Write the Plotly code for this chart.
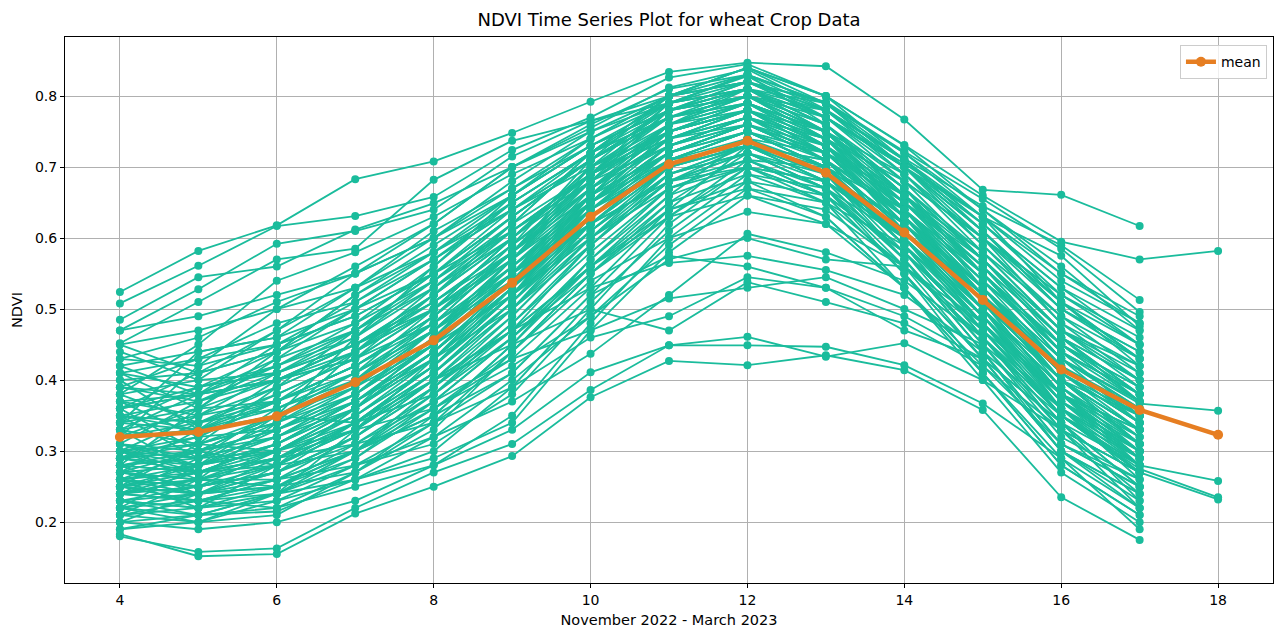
import plotly.graph_objects as go

# Days (x positions) of each acquisition
DAYS = [4, 5, 6, 7, 8, 9, 10, 11, 12, 13, 14, 15, 16, 17, 18]

# Per-field NDVI profiles (series starting at day 4; shorter ones end at day 17)
field_a = [.524, .582, .618, .683, .708, .748, .792, .834, .847, .842, .767, .668, .661, .617]
field_b = [.508, .561, .617, .631, .658, .724, .770, .826, .845, .800, .731, .660, .595, .570, .582]
field_c = [.485, .545, .560, .612, .649, .700, .755, .812, .838, .781, .712, .645, .590, .513]
field_d = [.470, .528, .592, .610, .640, .715, .765, .800, .820, .792, .722, .655, .585, .496]
field_e = [.452, .510, .570, .585, .682, .737, .765, .790, .828, .770, .705, .630, .575, .476]

main_fields = [
    [.39, .38, .42, .47, .54, .62, .72, .80, .84, .79, .70, .59, .48, .42],
    [.26, .28, .30, .36, .44, .54, .66, .76, .80, .75, .64, .52, .40, .33],
    [.31, .30, .33, .38, .45, .55, .64, .72, .76, .71, .60, .49, .36, .29],
    [.22, .24, .25, .31, .38, .47, .59, .68, .72, .67, .57, .44, .31, .25],
    [.35, .37, .40, .43, .50, .60, .69, .78, .82, .78, .70, .62, .53, .47],
    [.28, .27, .31, .37, .43, .53, .65, .74, .78, .73, .64, .54, .44, .38],
    [.24, .23, .26, .30, .39, .49, .60, .70, .74, .69, .57, .44, .30, .22],
    [.42, .44, .46, .50, .55, .63, .71, .78, .81, .76, .66, .55, .43, .36],
    [.33, .31, .34, .38, .45, .52, .60, .67, .70, .66, .58, .47, .36, .30],
    [.27, .30, .32, .38, .46, .57, .69, .79, .83, .79, .70, .61, .50, .44],
    [.20, .21, .22, .27, .34, .44, .55, .64, .68, .63, .53, .41, .28, .21],
    [.37, .35, .39, .44, .51, .59, .68, .76, .79, .75, .67, .58, .47, .41],
    [.30, .32, .33, .37, .44, .53, .63, .71, .75, .70, .59, .46, .33, .27],
    [.25, .26, .29, .35, .42, .52, .64, .73, .77, .72, .62, .51, .40, .35],
    [.45, .47, .50, .53, .58, .64, .71, .77, .80, .76, .68, .60, .51, .45],
    [.34, .33, .36, .40, .47, .55, .63, .70, .73, .68, .60, .49, .38, .32],
    [.21, .20, .24, .29, .37, .46, .57, .67, .71, .66, .55, .43, .30, .24],
    [.29, .31, .34, .39, .47, .57, .68, .78, .82, .77, .68, .57, .45, .39],
    [.38, .40, .41, .45, .51, .59, .67, .74, .77, .72, .63, .52, .41, .34],
    [.23, .22, .25, .30, .37, .46, .56, .65, .69, .65, .56, .46, .35, .28],
    [.32, .34, .36, .41, .48, .58, .69, .77, .81, .77, .69, .59, .49, .43],
    [.26, .25, .28, .34, .41, .51, .63, .72, .76, .71, .61, .49, .37, .30],
    [.40, .41, .44, .48, .54, .61, .69, .75, .78, .74, .65, .56, .44, .37],
    [.28, .29, .30, .35, .42, .51, .61, .69, .72, .67, .56, .43, .30, .23],
    [.36, .39, .41, .46, .53, .62, .72, .80, .84, .80, .73, .64, .55, .49],
    [.24, .26, .28, .34, .42, .52, .65, .75, .79, .74, .63, .51, .38, .31],
    [.31, .29, .32, .37, .44, .53, .62, .70, .74, .69, .58, .45, .32, .26],
    [.19, .20, .21, .27, .35, .45, .57, .66, .70, .65, .53, .40, .27, .20],
    [.43, .42, .45, .49, .55, .61, .68, .73, .76, .72, .65, .56, .46, .40],
    [.27, .28, .31, .37, .45, .55, .67, .76, .80, .75, .65, .54, .42, .36],
    [.34, .36, .37, .41, .47, .54, .62, .68, .71, .67, .58, .47, .35, .29],
    [.22, .23, .26, .32, .40, .50, .62, .71, .75, .70, .60, .49, .38, .33],
    [.30, .31, .35, .40, .48, .58, .70, .79, .83, .79, .71, .62, .52, .46],
    [.25, .24, .27, .32, .39, .47, .56, .64, .67, .63, .53, .41, .29, .22],
    [.39, .37, .41, .45, .50, .57, .65, .71, .73, .69, .60, .49, .37, .31],
    [.29, .30, .33, .38, .46, .55, .66, .74, .78, .74, .66, .56, .46, .40],
    [.35, .34, .37, .42, .48, .56, .65, .72, .76, .71, .60, .48, .35, .28],
    [.23, .25, .27, .34, .42, .53, .66, .76, .81, .76, .67, .55, .44, .38],
    [.47, .49, .52, .55, .60, .66, .73, .79, .82, .78, .71, .63, .54, .48],
    [.26, .27, .29, .34, .41, .50, .61, .70, .74, .69, .59, .46, .33, .27],
    [.33, .35, .37, .42, .49, .58, .68, .76, .79, .74, .64, .53, .41, .35],
    [.21, .22, .24, .30, .38, .48, .59, .69, .73, .68, .57, .44, .31, .25],
    [.37, .38, .40, .43, .48, .55, .62, .68, .70, .66, .58, .48, .38, .33],
    [.28, .27, .30, .36, .44, .53, .65, .73, .77, .73, .65, .57, .47, .42],
    [.41, .43, .45, .49, .55, .63, .71, .77, .80, .75, .64, .51, .38, .30],
    [.24, .25, .27, .32, .39, .48, .58, .67, .71, .66, .55, .43, .30, .24],
    [.32, .33, .37, .42, .49, .59, .71, .80, .84, .80, .71, .61, .50, .44],
    [.27, .26, .29, .33, .40, .47, .56, .63, .66, .62, .53, .42, .31, .26],
    [.36, .38, .40, .44, .50, .58, .67, .75, .78, .73, .65, .55, .45, .39],
    [.30, .29, .32, .36, .43, .52, .61, .69, .72, .67, .55, .41, .28, .21],
    [.44, .40, .47, .55, .60, .68, .75, .80, .82, .77, .70, .60, .50, .43],
    [.32, .42, .50, .56, .62, .70, .76, .81, .83, .78, .69, .58, .47, .40],
    [.38, .45, .54, .58, .63, .69, .74, .79, .81, .79, .72, .64, .56, .47],
    [.28, .36, .44, .52, .59, .66, .73, .78, .80, .76, .67, .57, .46, .37],
    [.41, .36, .43, .50, .57, .64, .71, .77, .79, .73, .62, .51, .40, .32],
    [.34, .44, .46, .53, .61, .67, .74, .80, .83, .76, .66, .55, .43, .34],
    [.25, .31, .39, .47, .55, .63, .71, .78, .81, .78, .70, .61, .51, .42],
    [.30, .26, .34, .44, .53, .61, .69, .75, .78, .72, .62, .50, .38, .29],
    [.36, .30, .35, .46, .56, .65, .72, .79, .81, .75, .64, .52, .39, .31],
    [.22, .28, .35, .41, .50, .60, .70, .77, .80, .74, .63, .52, .41, .34],
    [.40, .33, .38, .43, .52, .62, .69, .74, .77, .74, .68, .60, .52, .45],
    [.27, .33, .40, .45, .51, .58, .66, .72, .75, .72, .66, .57, .47, .39],
    [.35, .29, .36, .41, .47, .56, .65, .73, .77, .74, .66, .58, .49, .41],
    [.31, .37, .42, .48, .56, .66, .74, .80, .82, .79, .72, .63, .51, .43],
    [.26, .22, .28, .36, .46, .56, .66, .74, .78, .73, .61, .50, .39, .32],
    [.39, .43, .48, .51, .57, .64, .70, .75, .79, .75, .67, .57, .46, .38],
    [.24, .29, .34, .40, .49, .58, .67, .74, .77, .71, .61, .49, .37, .30],
    [.33, .27, .31, .36, .43, .50, .59, .68, .73, .69, .62, .53, .43, .36],
    [.45, .41, .44, .52, .58, .66, .73, .78, .80, .78, .71, .62, .53, .45],
    [.29, .34, .38, .43, .50, .60, .69, .76, .78, .72, .62, .50, .36, .27],
    [.21, .26, .30, .36, .44, .54, .64, .71, .74, .70, .62, .51, .40, .33],
    [.37, .32, .37, .42, .49, .57, .66, .72, .76, .72, .63, .53, .42, .35],
    [.42, .38, .43, .47, .53, .60, .68, .75, .78, .75, .69, .60, .48, .40],
    [.30, .35, .41, .47, .55, .64, .72, .78, .81, .75, .64, .52, .40, .33],
    [.23, .21, .24, .33, .43, .54, .65, .73, .76, .72, .63, .52, .41, .34],
    [.34, .39, .44, .50, .57, .65, .72, .77, .79, .73, .64, .54, .45, .37],
    [.28, .24, .29, .33, .41, .51, .62, .71, .75, .71, .63, .53, .43, .37],
    [.43, .46, .51, .55, .62, .70, .75, .79, .81, .77, .70, .61, .51, .43],
    [.26, .30, .35, .39, .45, .55, .65, .72, .75, .70, .60, .48, .35, .27],
    [.31, .28, .33, .39, .47, .56, .64, .70, .73, .71, .64, .55, .45, .38],
    [.36, .41, .47, .53, .60, .67, .73, .78, .80, .74, .63, .50, .37, .29],
    [.20, .24, .28, .33, .41, .50, .60, .68, .72, .68, .60, .50, .40, .33],
    [.33, .38, .45, .51, .58, .65, .72, .77, .80, .77, .70, .63, .55, .48],
    [.25, .28, .32, .38, .47, .57, .67, .75, .79, .75, .67, .57, .46, .38],
    [.38, .34, .39, .44, .50, .58, .67, .73, .77, .73, .64, .53, .41, .33],
    [.29, .32, .37, .44, .52, .61, .69, .74, .76, .73, .66, .56, .44, .35],
    [.41, .39, .42, .46, .54, .63, .71, .78, .81, .76, .66, .53, .40, .31],
    [.24, .27, .31, .37, .45, .54, .63, .70, .73, .70, .64, .55, .45, .37],
    [.32, .36, .40, .45, .52, .60, .69, .75, .78, .73, .63, .51, .38, .30],
    [.27, .25, .30, .35, .43, .52, .62, .70, .74, .69, .60, .48, .36, .29],
]

# Fields that green up late and slowly
slow_fields = [
    [.21, .23, .22, .25, .28, .35, .48, .60, .68, .66, .58, .47, .35, .27],
    [.26, .24, .26, .28, .31, .38, .50, .62, .70, .68, .60, .49, .37, .29],
    [.19, .21, .24, .26, .29, .34, .47, .58, .66, .64, .56, .46, .34, .25],
    [.30, .27, .29, .31, .34, .41, .52, .63, .71, .70, .62, .52, .40, .31],
    [.24, .26, .25, .27, .33, .44, .55, .65, .72, .69, .59, .48, .38, .30],
    [.33, .31, .30, .33, .36, .43, .53, .64, .73, .71, .63, .53, .42, .34],
    [.22, .20, .23, .26, .30, .39, .51, .61, .69, .67, .60, .50, .39, .30],
    [.28, .30, .28, .30, .35, .45, .56, .66, .74, .72, .63, .52, .40, .31],
    [.25, .23, .24, .28, .32, .40, .49, .59, .67, .65, .59, .49, .38, .28],
    [.35, .33, .35, .34, .38, .46, .55, .63, .70, .68, .61, .52, .42, .35],
]

# Fields with one more acquisition on day 18
late_fields = [
    [.36, .38, .40, .45, .52, .60, .70, .76, .79, .75, .66, .55, .43, .367, .357],
    [.25, .27, .29, .34, .42, .52, .63, .71, .75, .70, .59, .46, .34, .28, .258],
    [.29, .28, .31, .36, .44, .53, .64, .72, .76, .71, .60, .47, .35, .275, .235],
    [.23, .24, .27, .32, .40, .49, .60, .69, .73, .68, .57, .45, .33, .27, .232],
]

# Fields with a weak, flat season peak
weak_fields = [
    [.183, .152, .155, .212, .250, .293, .376, .427, .421, .435, .414, .358, .235, .175],
    [.180, .158, .163, .220, .270, .310, .386, .449, .449, .447, .421, .367, .290, .190],
    [.200, .190, .200, .230, .280, .330, .411, .449, .461, .433, .452, .400, .330, .220],
    [.22, .21, .215, .26, .32, .37, .437, .52, .606, .58, .54, .46, .36, .26],
    [.25, .24, .25, .30, .36, .42, .49, .57, .60, .57, .56, .47, .38, .29],
    [.29, .27, .28, .33, .40, .47, .53, .565, .575, .555, .52, .44, .35, .27],
    [.26, .25, .27, .31, .37, .43, .47, .515, .53, .545, .50, .45, .36, .28],
    [.23, .22, .23, .28, .34, .39, .46, .49, .545, .53, .47, .43, .34, .25],
    [.30, .28, .30, .34, .40, .45, .50, .47, .538, .51, .48, .42, .33, .24],
    [.27, .26, .26, .30, .35, .41, .52, .575, .56, .53, .49, .43, .34, .23],
    [.24, .23, .25, .29, .36, .44, .54, .60, .637, .62, .56, .48, .37, .28],
]

# Mean NDVI per day
mean_ndvi = [.320, .327, .349, .397, .456, .537, .630, .704, .737, .692, .608, .513, .415, .358, .323]

all_fields = ([field_a, field_b, field_c, field_d, field_e]
              + main_fields + slow_fields + late_fields + weak_fields)

FIELD_COLOR = "#1abc9c"
MEAN_COLOR = "#e67e22"
FONT = "DejaVu Sans, Liberation Sans, sans-serif"

fig = go.Figure()
for series in all_fields:
    fig.add_trace(go.Scatter(
        x=DAYS[:len(series)], y=series, mode="lines+markers",
        line=dict(color=FIELD_COLOR, width=1.8),
        marker=dict(color=FIELD_COLOR, size=8),
        showlegend=False, hoverinfo="skip",
    ))

fig.add_trace(go.Scatter(
    x=DAYS[:len(mean_ndvi)], y=mean_ndvi, mode="lines+markers", name="mean",
    line=dict(color=MEAN_COLOR, width=4.5),
    marker=dict(color=MEAN_COLOR, size=10),
))

axis_common = dict(
    showline=True, linecolor="black", linewidth=1, mirror=True,
    showgrid=True, gridcolor="#b0b0b0", gridwidth=1,
    ticks="outside", ticklen=4, tickcolor="black",
    tickfont=dict(size=14, color="black", family=FONT),
    zeroline=False, automargin=False,
)

fig.update_layout(
    width=1279, height=628,
    paper_bgcolor="white", plot_bgcolor="white",
    margin=dict(l=65, r=6, t=37, b=45),
    font=dict(family=FONT, color="black"),
    title=dict(text="NDVI Time Series Plot for wheat Crop Data", x=(669 / 1279), xanchor="center",
               y=1 - 20 / 628, yanchor="middle", font=dict(size=18, color="black", family=FONT)),
    xaxis=dict(range=[3.3, 18.7], tickmode="linear", tick0=4, dtick=2,
               title=dict(text="November 2022 - March 2023", font=dict(size=14.5), standoff=8),
               **axis_common),
    yaxis=dict(range=[0.1143, 0.8832], tickmode="linear", tick0=0.2, dtick=0.1, tickformat=".1f",
               title=dict(text="NDVI", font=dict(size=14.5), standoff=8),
               **axis_common),
    legend=dict(x=0.995, y=0.985, xanchor="right", yanchor="top",
                bgcolor="rgba(255,255,255,0.8)", bordercolor="#cccccc", borderwidth=1,
                font=dict(size=14, family=FONT)),
)

fig.write_html("out.html")
